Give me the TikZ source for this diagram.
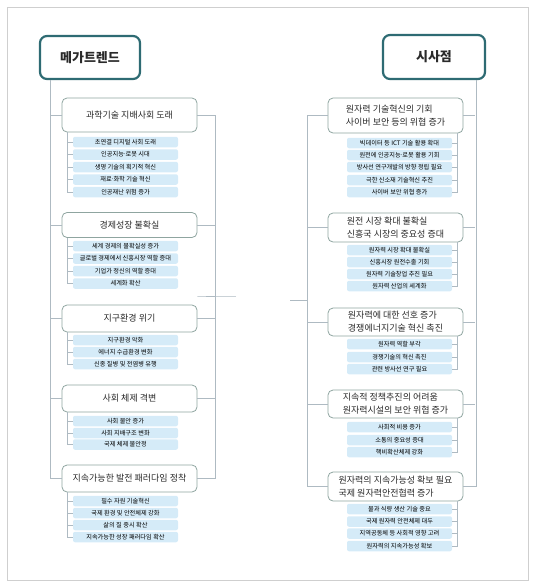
\documentclass[tikz,border=0pt]{standalone}
\usepackage{fontspec}
\setmainfont{Noto Sans CJK KR}
\usetikzlibrary{positioning, calc}
\definecolor{tealline}{HTML}{2E6B73}
\definecolor{catline}{HTML}{8FA5A0}
\definecolor{itemfill}{HTML}{D5EBF8}
\definecolor{linkgray}{HTML}{AEBAC2}
\definecolor{framegray}{HTML}{CFCFCF}
\definecolor{inkgray}{HTML}{2A2A2A}
\newcommand{\mdot}{\kern-0.15em·\kern-0.15em}

\begin{document}
\begin{tikzpicture}[x=1pt, y=-1pt,
    mainbox/.style={draw=tealline, line width=2.2pt, rounded corners=7pt, fill=white, text=inkgray,
        minimum width=100pt, minimum height=43pt, font=\fontsize{13}{15}\selectfont\bfseries},
    catbox/.style={draw=catline, line width=0.8pt, rounded corners=5pt, fill=white, text=inkgray,
        minimum width=135pt, inner sep=2pt, align=left, font=\fontsize{9}{13}\selectfont},
    itembox/.style={fill=itemfill, rounded corners=2pt, minimum width=105pt, minimum height=10.5pt,
        inner sep=0pt, text=black, font=\fontsize{6.2}{7}\selectfont},
    link/.style={draw=linkgray, line width=0.6pt}]
    \useasboundingbox (0,0) rectangle (535,587);
    \draw[framegray, line width=0.6pt] (7,7) rectangle (528,580);

    % Nodes
    \node[mainbox] (mega) at (90,57.5) {메가트렌드};
    \node[mainbox, minimum width=102pt, minimum height=44pt] (sisa) at (434,57) {시사점};

    \node[catbox, minimum height=34pt] (L1) at (129.5,115) {과학기술 지배사회 도래};
    \node[itembox] (L1a) at (125.5,142) {초연결 디지털 사회 도래};
    \node[itembox] (L1b) at (125.5,154.5) {인공지능\mdot 로봇 시대};
    \node[itembox] (L1c) at (125.5,167) {생명 기술의 획기적 혁신};
    \node[itembox] (L1d) at (125.5,179.5) {재료\mdot 화학 기술 혁신};
    \node[itembox] (L1e) at (125.5,192) {인공재난 위험 증가};

    \node[catbox, minimum height=25pt] (L2) at (129.5,225) {경제성장 불확실};
    \node[itembox] (L2a) at (125.5,246) {세계 경제의 불확실성 증가};
    \node[itembox] (L2b) at (125.5,258.5) {글로벌 경제에서 신흥시장 역할 증대};
    \node[itembox] (L2c) at (125.5,271) {기업가 정신의 역할 증대};
    \node[itembox] (L2d) at (125.5,283.5) {세계화 확산};

    \node[catbox, minimum height=27pt] (L3) at (129.5,318.5) {지구환경 위기};
    \node[itembox] (L3a) at (125.5,340) {지구환경 악화};
    \node[itembox] (L3b) at (125.5,352) {에너지 수급환경 변화};
    \node[itembox] (L3c) at (125.5,364) {신종 질병 및 전염병 유행};

    \node[catbox, minimum height=27pt] (L4) at (129.5,398.5) {사회 체제 격변};
    \node[itembox] (L4a) at (125.5,421) {사회 불안 증가};
    \node[itembox] (L4b) at (125.5,433) {사회 지배구조 변화};
    \node[itembox] (L4c) at (125.5,444.5) {국제 체제 불안정};

    \node[catbox, minimum height=27pt] (L5) at (129.5,478.5) {지속가능한 발전 패러다임 정착};
    \node[itembox] (L5a) at (125.5,501) {필수 자원 기술혁신};
    \node[itembox] (L5b) at (125.5,513) {국제 환경 및 안전체제 강화};
    \node[itembox] (L5c) at (125.5,525) {삶의 질 중시 확산};
    \node[itembox] (L5d) at (125.5,537) {지속가능한 성장 패러다임 확산};

    \node[catbox, minimum height=35pt] (R1) at (395.5,115.5) {원자력 기술혁신의 기회\\사이버 보안 등의 위협 증가};
    \node[itembox] (R1a) at (399.5,143) {빅데이터 등 ICT 기술 활용 확대};
    \node[itembox] (R1b) at (399.5,155) {원전에 인공지능\mdot 로봇 활용 기회};
    \node[itembox] (R1c) at (399.5,167) {방사선 연구개발의 방향 정립 필요};
    \node[itembox] (R1d) at (399.5,180) {극한 신소재 기술혁신 추진};
    \node[itembox] (R1e) at (399.5,192) {사이버 보안 위협 증가};

    \node[catbox, minimum height=29pt] (R2) at (395.5,227.5) {원전 시장 확대 불확실\\신흥국 시장의 중요성 증대};
    \node[itembox] (R2a) at (399.5,250) {원자력 시장 확대 불확실};
    \node[itembox] (R2b) at (399.5,262) {신흥시장 원전수출 기회};
    \node[itembox] (R2c) at (399.5,274) {원자력 기술창업 추진 필요};
    \node[itembox] (R2d) at (399.5,286) {원자력 산업의 세계화};

    \node[catbox, minimum height=28pt] (R3) at (395.5,322) {원자력에 대한 선호 증가\\경쟁에너지기술 혁신 촉진};
    \node[itembox] (R3a) at (399.5,344) {원자력 역할 부각};
    \node[itembox] (R3b) at (399.5,357) {경쟁기술의 혁신 촉진};
    \node[itembox] (R3c) at (399.5,369) {관련 방사선 연구 필요};

    \node[catbox, minimum height=28pt] (R4) at (395.5,404) {지속적 정책추진의 어려움\\원자력시설의 보안 위협 증가};
    \node[itembox] (R4a) at (399.5,427) {사회적 비용 증가};
    \node[itembox] (R4b) at (399.5,440) {소통의 중요성 증대};
    \node[itembox] (R4c) at (399.5,452) {핵비확산체제 강화};

    \node[catbox, minimum height=29pt] (R5) at (395.5,486.5) {원자력의 지속가능성 확보 필요\\국제 원자력안전협력 증가};
    \node[itembox] (R5a) at (399.5,509) {물과 식량 생산 기술 중요};
    \node[itembox] (R5b) at (399.5,521.5) {국제 원자력 안전체제 대두};
    \node[itembox] (R5c) at (399.5,533.5) {지역공동체 등 사회적 영향 고려};
    \node[itembox] (R5d) at (399.5,546) {원자력의 지속가능성 확보};

    \coordinate (lstub) at (236,296);
    \coordinate (rstub) at (290,300);

    % Edges
    \draw[link] ([xshift=11pt]mega.south west) |- (L5.west);
    \draw[link] (L1.west) -- ++(-11,0);
    \draw[link] (L2.west) -- ++(-11,0);
    \draw[link] (L3.west) -- ++(-11,0);
    \draw[link] (L4.west) -- ++(-11,0);
    \draw[link] (L1.east) -- ++(18,0) |- (L5.east);
    \draw[link] (L2.east) -- ++(18,0);
    \draw[link] (L3.east) -- ++(18,0);
    \draw[link] (L4.east) -- ++(18,0);
    \draw[link] (lstub) -- (lstub -| L1.east) -- ++(18,0);

    \draw[link] ([xshift=-10pt]sisa.south east) |- (R5.east);
    \draw[link] (R1.east) -- ++(12,0);
    \draw[link] (R2.east) -- ++(12,0);
    \draw[link] (R3.east) -- ++(12,0);
    \draw[link] (R4.east) -- ++(12,0);
    \draw[link] (R1.west) -- ++(-20,0) |- (R5.west);
    \draw[link] (R2.west) -- ++(-20,0);
    \draw[link] (R3.west) -- ++(-20,0);
    \draw[link] (R4.west) -- ++(-20,0);
    \draw[link] (rstub) -- ([xshift=-20pt]rstub -| R1.west);

    % left item brackets
    \draw[link] ([xshift=6pt]L1.south west) |- (L1e.west);
    \draw[link] (L1a.west) -- ++(-5,0);
    \draw[link] (L1b.west) -- ++(-5,0);
    \draw[link] (L1c.west) -- ++(-5,0);
    \draw[link] (L1d.west) -- ++(-5,0);
    \draw[link] ([xshift=6pt]L2.south west) |- (L2d.west);
    \draw[link] (L2a.west) -- ++(-5,0);
    \draw[link] (L2b.west) -- ++(-5,0);
    \draw[link] (L2c.west) -- ++(-5,0);
    \draw[link] ([xshift=6pt]L3.south west) |- (L3c.west);
    \draw[link] (L3a.west) -- ++(-5,0);
    \draw[link] (L3b.west) -- ++(-5,0);
    \draw[link] ([xshift=6pt]L4.south west) |- (L4c.west);
    \draw[link] (L4a.west) -- ++(-5,0);
    \draw[link] (L4b.west) -- ++(-5,0);
    \draw[link] ([xshift=6pt]L5.south west) |- (L5d.west);
    \draw[link] (L5a.west) -- ++(-5,0);
    \draw[link] (L5b.west) -- ++(-5,0);
    \draw[link] (L5c.west) -- ++(-5,0);

    % right item brackets
    \draw[link] ([xshift=-6pt]R1.south east) |- (R1e.east);
    \draw[link] (R1a.east) -- ++(5,0);
    \draw[link] (R1b.east) -- ++(5,0);
    \draw[link] (R1c.east) -- ++(5,0);
    \draw[link] (R1d.east) -- ++(5,0);
    \draw[link] ([xshift=-6pt]R2.south east) |- (R2d.east);
    \draw[link] (R2a.east) -- ++(5,0);
    \draw[link] (R2b.east) -- ++(5,0);
    \draw[link] (R2c.east) -- ++(5,0);
    \draw[link] ([xshift=-6pt]R3.south east) |- (R3c.east);
    \draw[link] (R3a.east) -- ++(5,0);
    \draw[link] (R3b.east) -- ++(5,0);
    \draw[link] ([xshift=-6pt]R4.south east) |- (R4c.east);
    \draw[link] (R4a.east) -- ++(5,0);
    \draw[link] (R4b.east) -- ++(5,0);
    \draw[link] ([xshift=-6pt]R5.south east) |- (R5d.east);
    \draw[link] (R5a.east) -- ++(5,0);
    \draw[link] (R5b.east) -- ++(5,0);
    \draw[link] (R5c.east) -- ++(5,0);

\end{tikzpicture}
\end{document}
